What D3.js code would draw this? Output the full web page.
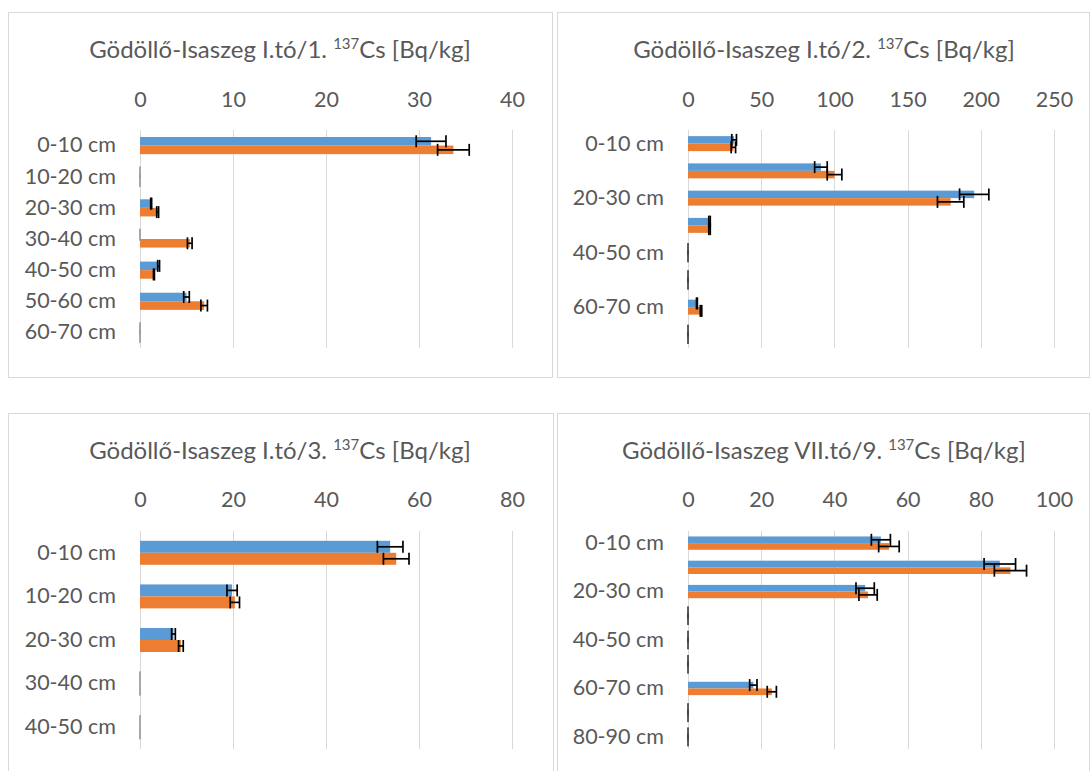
<!DOCTYPE html>
<html><head><meta charset="utf-8">
<script src="https://cdn.jsdelivr.net/npm/d3@7"></script>
<style>
body{margin:0;background:#fff}
text{font-family:Lato,'Open Sans',sans-serif;fill:#595959}
</style>
</head><body>
<svg id="c" width="1090" height="771"></svg>
<script>
// ---------- DATA ----------
const titles = [
  ["Gödöllő-Isaszeg I.tó/1. ", "137", "Cs [Bq/kg]"],
  ["Gödöllő-Isaszeg I.tó/2. ", "137", "Cs [Bq/kg]"],
  ["Gödöllő-Isaszeg I.tó/3. ", "137", "Cs [Bq/kg]"],
  ["Gödöllő-Isaszeg VII.tó/9. ", "137", "Cs [Bq/kg]"]
];

const cats1 = ["0-10 cm","10-20 cm","20-30 cm","30-40 cm","40-50 cm","50-60 cm","60-70 cm"];
const blue1 = [31.3, 0, 1.2, 0, 2.0, 5.0, 0];
const blueErr1 = [1.6, 0, 0.05, 0, 0.1, 0.3, 0];
const orange1 = [33.7, 0, 1.9, 5.35, 1.5, 6.9, 0];
const orangeErr1 = [1.7, 0, 0.1, 0.25, 0.05, 0.35, 0];
const ticks1 = [0, 10, 20, 30, 40];

const cats2 = ["0-10 cm","10-20 cm","20-30 cm","30-40 cm","40-50 cm","50-60 cm","60-70 cm","70-80 cm"];
const blue2 = [31.5, 90.8, 195.5, 14.7, 0, 0, 6.1, 0];
const blueErr2 = [1.6, 4.3, 10, 0.5, 0, 0, 0.3, 0];
const orange2 = [31, 100.1, 179.4, 14.7, 0, 0, 8.9, 0];
const orangeErr2 = [1.5, 5, 9, 0.5, 0, 0, 0.5, 0];
const ticks2 = [0, 50, 100, 150, 200, 250];

const cats3 = ["0-10 cm","10-20 cm","20-30 cm","30-40 cm","40-50 cm"];
const blue3 = [53.8, 19.8, 7.2, 0, 0];
const blueErr3 = [2.75, 1.1, 0.4, 0, 0];
const orange3 = [55.1, 20.4, 8.8, 0, 0];
const orangeErr3 = [2.75, 1.0, 0.5, 0, 0];
const ticks3 = [0, 20, 40, 60, 80];

const cats4 = ["0-10 cm","10-20 cm","20-30 cm","30-40 cm","40-50 cm","50-60 cm","60-70 cm","70-80 cm","80-90 cm"];
const blue4 = [52.7, 85.2, 48.4, 0, 0, 0, 17.85, 0, 0];
const blueErr4 = [2.6, 4.3, 2.5, 0, 0, 0, 1.0, 0, 0];
const orange4 = [54.9, 88.1, 49.2, 0, 0, 0, 22.9, 0, 0];
const orangeErr4 = [2.8, 4.4, 2.5, 0, 0, 0, 1.25, 0, 0];
const ticks4 = [0, 20, 40, 60, 80, 100];

const seriesColors = ["#5B9BD5", "#ED7D31"];

// ---------- LAYOUT ----------
const panels = [
  {title: titles[0], cats: cats1, vals: [blue1, orange1], errs: [blueErr1, orangeErr1], ticks: ticks1, skip: false,
   box: [8.5, 12.5, 544, 365], x: [140, 512], y: [130, 348], tx: 280, ty: 58, kt: 106.5, zc: "#9A9A9A"},
  {title: titles[1], cats: cats2, vals: [blue2, orange2], errs: [blueErr2, orangeErr2], ticks: ticks2, skip: true,
   box: [557.5, 12.5, 532, 365], x: [688, 1054], y: [130, 348], tx: 824, ty: 58, kt: 106.5, zc: "#404040"},
  {title: titles[2], cats: cats3, vals: [blue3, orange3], errs: [blueErr3, orangeErr3], ticks: ticks3, skip: false,
   box: [8.5, 413.5, 545, 400], x: [140, 512], y: [531, 749], tx: 280, ty: 458.5, kt: 507, zc: "#9A9A9A"},
  {title: titles[3], cats: cats4, vals: [blue4, orange4], errs: [blueErr4, orangeErr4], ticks: ticks4, skip: true,
   box: [557.5, 413.5, 532, 400], x: [688, 1054], y: [531, 749], tx: 824, ty: 458.5, kt: 507, zc: "#404040"}
];

const svg = d3.select("#c");

panels.forEach(p => {
  const g = svg.append("g");
  g.append("rect").attr("x", p.box[0]).attr("y", p.box[1]).attr("width", p.box[2]).attr("height", p.box[3])
    .attr("fill", "#fff").attr("stroke", "#D9D9D9").attr("stroke-width", 1);

  const t = g.append("text").attr("x", p.tx).attr("y", p.ty).attr("text-anchor", "middle")
    .style("font-size", "24px");
  t.append("tspan").text(p.title[0]);
  t.append("tspan").text(p.title[1]).style("font-size", "15px").attr("dy", -9);
  t.append("tspan").text(p.title[2]).attr("dy", 9);

  const xMax = p.ticks[p.ticks.length - 1];
  const x = d3.scaleLinear().domain([0, xMax]).range(p.x);
  const y = d3.scaleBand().domain(p.cats).range(p.y).paddingInner(0.45).paddingOuter(0.225);
  const ys = d3.scaleBand().domain([0, 1]).range([0, y.bandwidth()]);

  // gridlines
  g.append("g").selectAll("line").data(p.ticks).join("line")
    .attr("x1", d => Math.round(x(d)) + 0.5).attr("x2", d => Math.round(x(d)) + 0.5)
    .attr("y1", p.y[0]).attr("y2", p.y[1])
    .attr("stroke", "#D9D9D9").attr("stroke-width", 1);

  // top value axis
  const ax = g.append("g").attr("transform", `translate(0,${p.kt})`)
    .call(d3.axisTop(x).tickValues(p.ticks).tickSize(0).tickPadding(0).tickFormat(d3.format("d")));
  ax.select(".domain").remove();
  ax.selectAll("text").style("font-size", "21.5px").attr("fill", "#595959").style("font-family", "Lato");

  // category axis
  const ay = g.append("g").attr("transform", `translate(${p.x[0]},0)`)
    .call(d3.axisLeft(d3.scaleBand().domain(p.cats).range(p.y))
      .tickSize(0).tickPadding(24)
      .tickFormat((d, i) => (p.skip && i % 2 === 1) ? "" : d));
  ay.select(".domain").remove();
  ay.selectAll("text").style("font-size", "21.5px").attr("fill", "#595959").style("font-family", "Lato");

  // bars
  p.vals.forEach((arr, s) => {
    g.append("g").selectAll("rect").data(arr).join("rect")
      .attr("x", x(0))
      .attr("y", (d, i) => y(p.cats[i]) + ys(s))
      .attr("width", d => x(d) - x(0))
      .attr("height", ys.bandwidth())
      .attr("fill", seriesColors[s]);
  });

  // error bars
  const cap = 6;
  p.vals.forEach((arr, s) => {
    const eg = g.append("g");
    arr.forEach((v, i) => {
      const e = p.errs[s][i];
      const zero = (v === 0 && e === 0);
      const col = zero ? p.zc : "#000";
      const sw = zero ? 1.2 : 1.7;
      const cy = y(p.cats[i]) + ys(s) + ys.bandwidth() / 2;
      const xl = x(v - e), xr = x(v + e);
      const lines = [[xl, xr, cy, cy], [xl, xl, cy - cap, cy + cap], [xr, xr, cy - cap, cy + cap]];
      lines.forEach(l => eg.append("line").attr("x1", l[0]).attr("x2", l[1]).attr("y1", l[2]).attr("y2", l[3])
        .attr("stroke", col).attr("stroke-width", sw));
    });
  });
});
</script>
</body></html>
